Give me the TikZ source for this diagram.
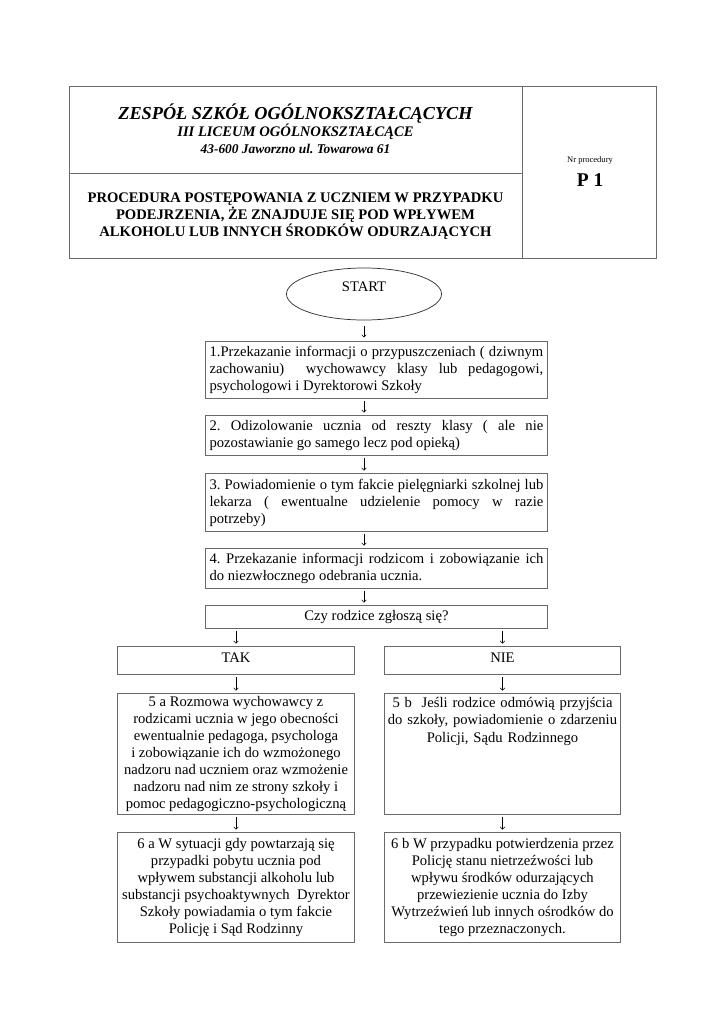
\documentclass[tikz,border=0pt]{standalone}
\usepackage{fontspec}
\setmainfont{Liberation Serif}
\usepackage{xcolor}
\usepackage{tikz}
\usetikzlibrary{shapes.geometric, arrows.meta, positioning, calc}

\definecolor{ramka}{RGB}{105,105,105}
\tolerance=9999
\emergencystretch=2em
\hyphenpenalty=10000
\frenchspacing

\begin{document}
\begin{tikzpicture}[
    x=0.8211pt, y=-0.8211pt,
    every node/.style={font=\fontsize{12}{14}\selectfont},
    frameline/.style={draw=ramka, line width=0.8pt},
    stepbox/.style={draw=ramka, line width=0.8pt, rectangle, anchor=north west,
                    inner xsep=3.3pt, inner ysep=1.5pt},
    justbox/.style={stepbox, text width=274pt, align=justify, minimum width=280.8pt},
    midbox/.style={stepbox, align=center},
    startnode/.style={draw=black!80, line width=0.6pt, ellipse},
    arr/.style={-{To[length=2.4pt,width=4.2pt]}, line width=0.45pt,
                shorten <=2pt, shorten >=2pt}
]

% 页面大小（像素）
\def\W{725}
\def\H{1024}
\def\pu{0.8211}
\useasboundingbox (0,0) rectangle (\W,\H);

% 表头
\draw[frameline] (69,86) rectangle (656,258);
\draw[frameline] (522,86) -- (522,258);
\draw[frameline] (69,173) -- (522,173);

\node[font=\fontsize{15}{17}\selectfont\bfseries\itshape] (szkola) at (295.5,114)
    {ZESPÓŁ SZKÓŁ OGÓLNOKSZTAŁCĄCYCH};
\node[font=\fontsize{12}{14}\selectfont\bfseries\itshape] (liceum) at (295.5,132)
    {III LICEUM OGÓLNOKSZTAŁCĄCE};
\node[font=\fontsize{11}{13}\selectfont\bfseries\itshape] (adres) at (295.5,149)
    {43-600 Jaworzno ul. Towarowa 61};
\node[font=\fontsize{12}{14}\selectfont\bfseries, align=center] (tytul) at (295.5,216)
    {PROCEDURA POSTĘPOWANIA Z UCZNIEM W PRZYPADKU\\
     PODEJRZENIA, ŻE ZNAJDUJE SIĘ POD WPŁYWEM\\
     ALKOHOLU LUB INNYCH ŚRODKÓW ODURZAJĄCYCH};
\node[font=\fontsize{7}{8}\selectfont] (nrproc) at (590,160) {Nr procedury};
\node[font=\fontsize{16}{18}\selectfont\bfseries] (nrp) at (590,180) {P 1};

% 开始
\node[startnode, minimum width=155*\pu pt, minimum height=52*\pu pt, text depth=12.3pt]
    (start) at (364,294) {START};

% 步骤 1--4
\node[justbox, minimum height=57*\pu pt] (b1) at (205,341)
    {1.Przekazanie informacji o przypuszczeniach ( dziwnym\linebreak
     zachowaniu)\ \ wychowawcy klasy lub pedagogowi,\linebreak
     psychologowi i Dyrektorowi Szkoły};
\node[justbox, minimum height=40*\pu pt] (b2) at (205,415)
    {2. Odizolowanie ucznia od reszty klasy ( ale nie\linebreak
     pozostawianie go samego lecz pod opieką)};
\node[justbox, minimum height=58*\pu pt] (b3) at (205,473)
    {3. Powiadomienie o tym fakcie pielęgniarki szkolnej lub\linebreak
     lekarza ( ewentualne udzielenie pomocy w razie\linebreak
     potrzeby)};
\node[justbox, minimum height=40*\pu pt] (b4) at (205,548)
    {4. Przekazanie informacji rodzicom i zobowiązanie ich\linebreak
     do niezwłocznego odebrania ucznia.};

% 判断
\node[midbox, minimum width=342*\pu pt, minimum height=23*\pu pt] (czy) at (205,605)
    {Czy rodzice zgłoszą się?};
\node[midbox, minimum width=237*\pu pt, minimum height=28*\pu pt, text depth=4pt]
    (tak) at (117,646) {TAK};
\node[midbox, minimum width=236*\pu pt, minimum height=28*\pu pt, text depth=4pt]
    (nie) at (384,646) {NIE};

% 两个分支
\node[midbox, minimum width=237*\pu pt, minimum height=121*\pu pt] (b5a) at (117,693)
    {5 a Rozmowa wychowawcy z\\
     rodzicami ucznia w jego obecności\\
     ewentualnie pedagoga, psychologa\\
     i zobowiązanie ich do wzmożonego\\
     nadzoru nad uczniem oraz wzmożenie\\
     nadzoru nad nim ze strony szkoły i\\
     pomoc pedagogiczno-psychologiczną};
\node[midbox, minimum width=236*\pu pt, minimum height=121*\pu pt, inner xsep=0pt,
      text width=236*\pu pt, text depth=84pt] (b5b) at (384,693)
    {5 b\ \ Jeśli rodzice odmówią przyjścia\\
     do szkoły, powiadomienie o zdarzeniu\\
     Policji, Sądu Rodzinnego};
\node[midbox, minimum width=237*\pu pt, minimum height=110*\pu pt] (b6a) at (117,832)
    {6 a W sytuacji gdy powtarzają się\\
     przypadki pobytu ucznia pod\\
     wpływem substancji alkoholu lub\\
     substancji psychoaktywnych\ \ Dyrektor\\
     Szkoły powiadamia o tym fakcie\\
     Policję i Sąd Rodzinny};
\node[midbox, minimum width=236*\pu pt, minimum height=110*\pu pt] (b6b) at (384,832)
    {6 b W przypadku potwierdzenia przez\\
     Policję stanu nietrzeźwości lub\\
     wpływu środków odurzających\\
     przewiezienie ucznia do Izby\\
     Wytrzeźwień lub innych ośrodków do\\
     tego przeznaczonych.};

% 箭头
\draw[arr, shorten <=4.5pt, shorten >=3pt] (start.south) -- (b1.north -| start);
\draw[arr] (b1.south -| start) -- (b2.north -| start);
\draw[arr] (b2.south -| start) -- (b3.north -| start);
\draw[arr] (b3.south -| start) -- (b4.north -| start);
\draw[arr] (b4.south -| start) -- (czy.north -| start);
\draw[arr] (czy.south -| tak) -- (tak.north);
\draw[arr] (czy.south -| nie) -- (nie.north);
\draw[arr] (tak.south) -- (b5a.north);
\draw[arr] (nie.south) -- (b5b.north);
\draw[arr] (b5a.south) -- (b6a.north);
\draw[arr] (b5b.south) -- (b6b.north);

\end{tikzpicture}
\end{document}
